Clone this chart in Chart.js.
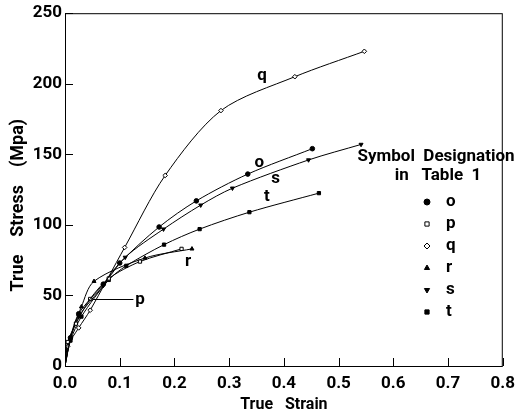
<!DOCTYPE html>
<html>
<head>
<meta charset="utf-8">
<script src="https://cdn.jsdelivr.net/npm/chart.js@4/dist/chart.umd.min.js"></script>
<style>
  html, body { margin: 0; padding: 0; background: #fff; }
  #wrap { width: 523px; height: 415px; }
</style>
</head>
<body>
<div id="wrap"><canvas id="myLineChart"></canvas></div>
<script>
// values (true strain, true stress in MPa)
var strainO = [0, 0.01, 0.025, 0.07, 0.10, 0.172, 0.24, 0.334, 0.452];
var stressO = [0, 20, 37, 58, 73, 98.5, 117, 136, 154];
var strainP = [0, 0.005, 0.02, 0.046, 0.08, 0.137, 0.213];
var stressP = [0, 17, 30, 47.5, 62, 74, 83];
var strainQ = [0, 0.005, 0.025, 0.046, 0.109, 0.183, 0.285, 0.42, 0.547];
var stressQ = [0, 14, 27, 39.5, 84, 135, 181, 205, 223];
var strainR = [0, 0.01, 0.03, 0.053, 0.146, 0.232];
var stressR = [0, 20, 42, 60, 76.5, 83];
var strainS = [0, 0.01, 0.025, 0.07, 0.11, 0.18, 0.248, 0.306, 0.445, 0.541];
var stressS = [0, 19, 35, 57, 77, 97, 114, 126, 146, 157];
var strainT = [0, 0.01, 0.03, 0.08, 0.112, 0.181, 0.246, 0.337, 0.464];
var stressT = [0, 18, 35, 61, 71, 86, 97, 109, 122.5];

var xTicks = [0, 0.1, 0.2, 0.3, 0.4, 0.5, 0.6, 0.7, 0.8];
var yTicks = [0, 50, 100, 150, 200, 250];

var FONT = "Roboto, 'Liberation Sans', sans-serif";

function pts(xs, ys) {
    var out = [];
    for (var i = 0; i < xs.length; i++) out.push({x: xs[i], y: ys[i]});
    return out;
}

function series(name, xs, ys, style, fill, rot) {
    return {
        label: name,
        data: pts(xs, ys),
        borderColor: '#000',
        borderWidth: 1,
        backgroundColor: fill,
        pointBorderColor: '#000',
        pointBorderWidth: 1,
        pointStyle: style,
        rotation: rot || 0,
        pointRadius: function(c) { return c.dataIndex === 0 ? 0 : 2.3; },
        tension: 0.3,
        fill: false
    };
}

var datasets = [
    series('o', strainO, stressO, 'circle', '#000'),
    series('p', strainP, stressP, 'rect', '#fff'),
    series('q', strainQ, stressQ, 'rectRot', '#fff'),
    series('r', strainR, stressR, 'triangle', '#000'),
    series('s', strainS, stressS, 'triangle', '#000', 180),
    series('t', strainT, stressT, 'rect', '#000')
];

// curve labels, in data units
var curveLabels = [
    {t: 'q', x: 0.36, y: 206},
    {t: 'o', x: 0.355, y: 144},
    {t: 's', x: 0.385, y: 133},
    {t: 't', x: 0.369, y: 120},
    {t: 'r', x: 0.225, y: 74},
    {t: 'p', x: 0.137, y: 47}
];

var decorations = {
    id: 'decorations',
    afterDraw: function(chart) {
        var ctx = chart.ctx, a = chart.chartArea;
        var xs = chart.scales.x, ys = chart.scales.y;
        ctx.save();
        ctx.strokeStyle = '#000';
        ctx.lineWidth = 1;
        ctx.strokeRect(a.left + 0.5, a.top + 0.5, a.right - a.left - 1, a.bottom - a.top);

        // inward ticks
        ctx.beginPath();
        xTicks.forEach(function(v) {
            var px = Math.round(xs.getPixelForValue(v)) + 0.5;
            ctx.moveTo(px, a.bottom); ctx.lineTo(px, a.bottom - 8);
        });
        yTicks.forEach(function(v) {
            var py = Math.round(ys.getPixelForValue(v)) + 0.5;
            ctx.moveTo(a.left, py); ctx.lineTo(a.left + 8, py);
        });
        ctx.stroke();

        // curve letters
        ctx.fillStyle = '#000';
        ctx.font = 'bold 17px ' + FONT;
        ctx.textAlign = 'center';
        ctx.textBaseline = 'middle';
        curveLabels.forEach(function(l) {
            ctx.fillText(l.t, xs.getPixelForValue(l.x), ys.getPixelForValue(l.y));
        });
        // leader for p
        ctx.beginPath();
        var ly = Math.round(ys.getPixelForValue(47.5)) + 0.5;
        ctx.moveTo(xs.getPixelForValue(0.05), ly);
        ctx.lineTo(xs.getPixelForValue(0.125), ly);
        ctx.stroke();

        // symbol table
        ctx.font = 'bold 17px ' + FONT;
        ctx.fillText('Symbol  Designation', 436, 157);
        ctx.fillText('in   Table  1', 438, 176);
        chart.data.datasets.forEach(function(ds, i) {
            var y = 202 + i * 22;
            ctx.fillStyle = ds.backgroundColor;
            ctx.strokeStyle = '#000';
            ctx.beginPath();
            Chart.helpers.drawPoint(ctx, {
                pointStyle: ds.pointStyle,
                rotation: ds.rotation,
                radius: 3,
                borderWidth: 1
            }, 427, y);
            ctx.fillStyle = '#000';
            ctx.textAlign = 'left';
            ctx.fillText(ds.label, 446, y);
            ctx.textAlign = 'center';
        });
        ctx.restore();
    }
};

var ctx = document.getElementById('myLineChart').getContext('2d');
var myLineChart = new Chart(ctx, {
    type: 'line',
    data: {datasets: datasets},
    options: {
        responsive: true,
        maintainAspectRatio: false,
        animation: false,
        layout: {padding: {top: 13, right: 3, left: 0, bottom: 0}},
        plugins: {legend: {display: false}, tooltip: {enabled: false}},
        scales: {
            x: {
                type: 'linear',
                min: 0, max: 0.8,
                grid: {display: false, drawTicks: false},
                border: {display: false},
                afterBuildTicks: function(s) { s.ticks = xTicks.map(function(v) { return {value: v}; }); },
                afterFit: function(s) { s.height = 49; },
                ticks: {
                    color: '#000', padding: 8, maxRotation: 0,
                    font: {family: FONT, size: 17, weight: 'bold'},
                    callback: function(v) { return v.toFixed(1); }
                },
                title: {
                    display: true, text: 'True   Strain', color: '#000',
                    font: {family: FONT, size: 16, weight: 'bold'},
                    padding: {top: 2, bottom: 0}
                }
            },
            y: {
                type: 'linear',
                min: 0, max: 250,
                grid: {display: false, drawTicks: false},
                border: {display: false},
                afterBuildTicks: function(s) { s.ticks = yTicks.map(function(v) { return {value: v}; }); },
                afterFit: function(s) { s.width = 65; },
                ticks: {
                    color: '#000', padding: 3,
                    font: {family: FONT, size: 17, weight: 'bold'}
                },
                title: {
                    display: true, text: 'True    Stress    (Mpa)\u00a0\u00a0\u00a0\u00a0\u00a0\u00a0\u00a0', color: '#000',
                    font: {family: FONT, size: 18, weight: 'bold'},
                    padding: {top: 8, bottom: 0}
                }
            }
        }
    },
    plugins: [decorations]
});
</script>
</body>
</html>
